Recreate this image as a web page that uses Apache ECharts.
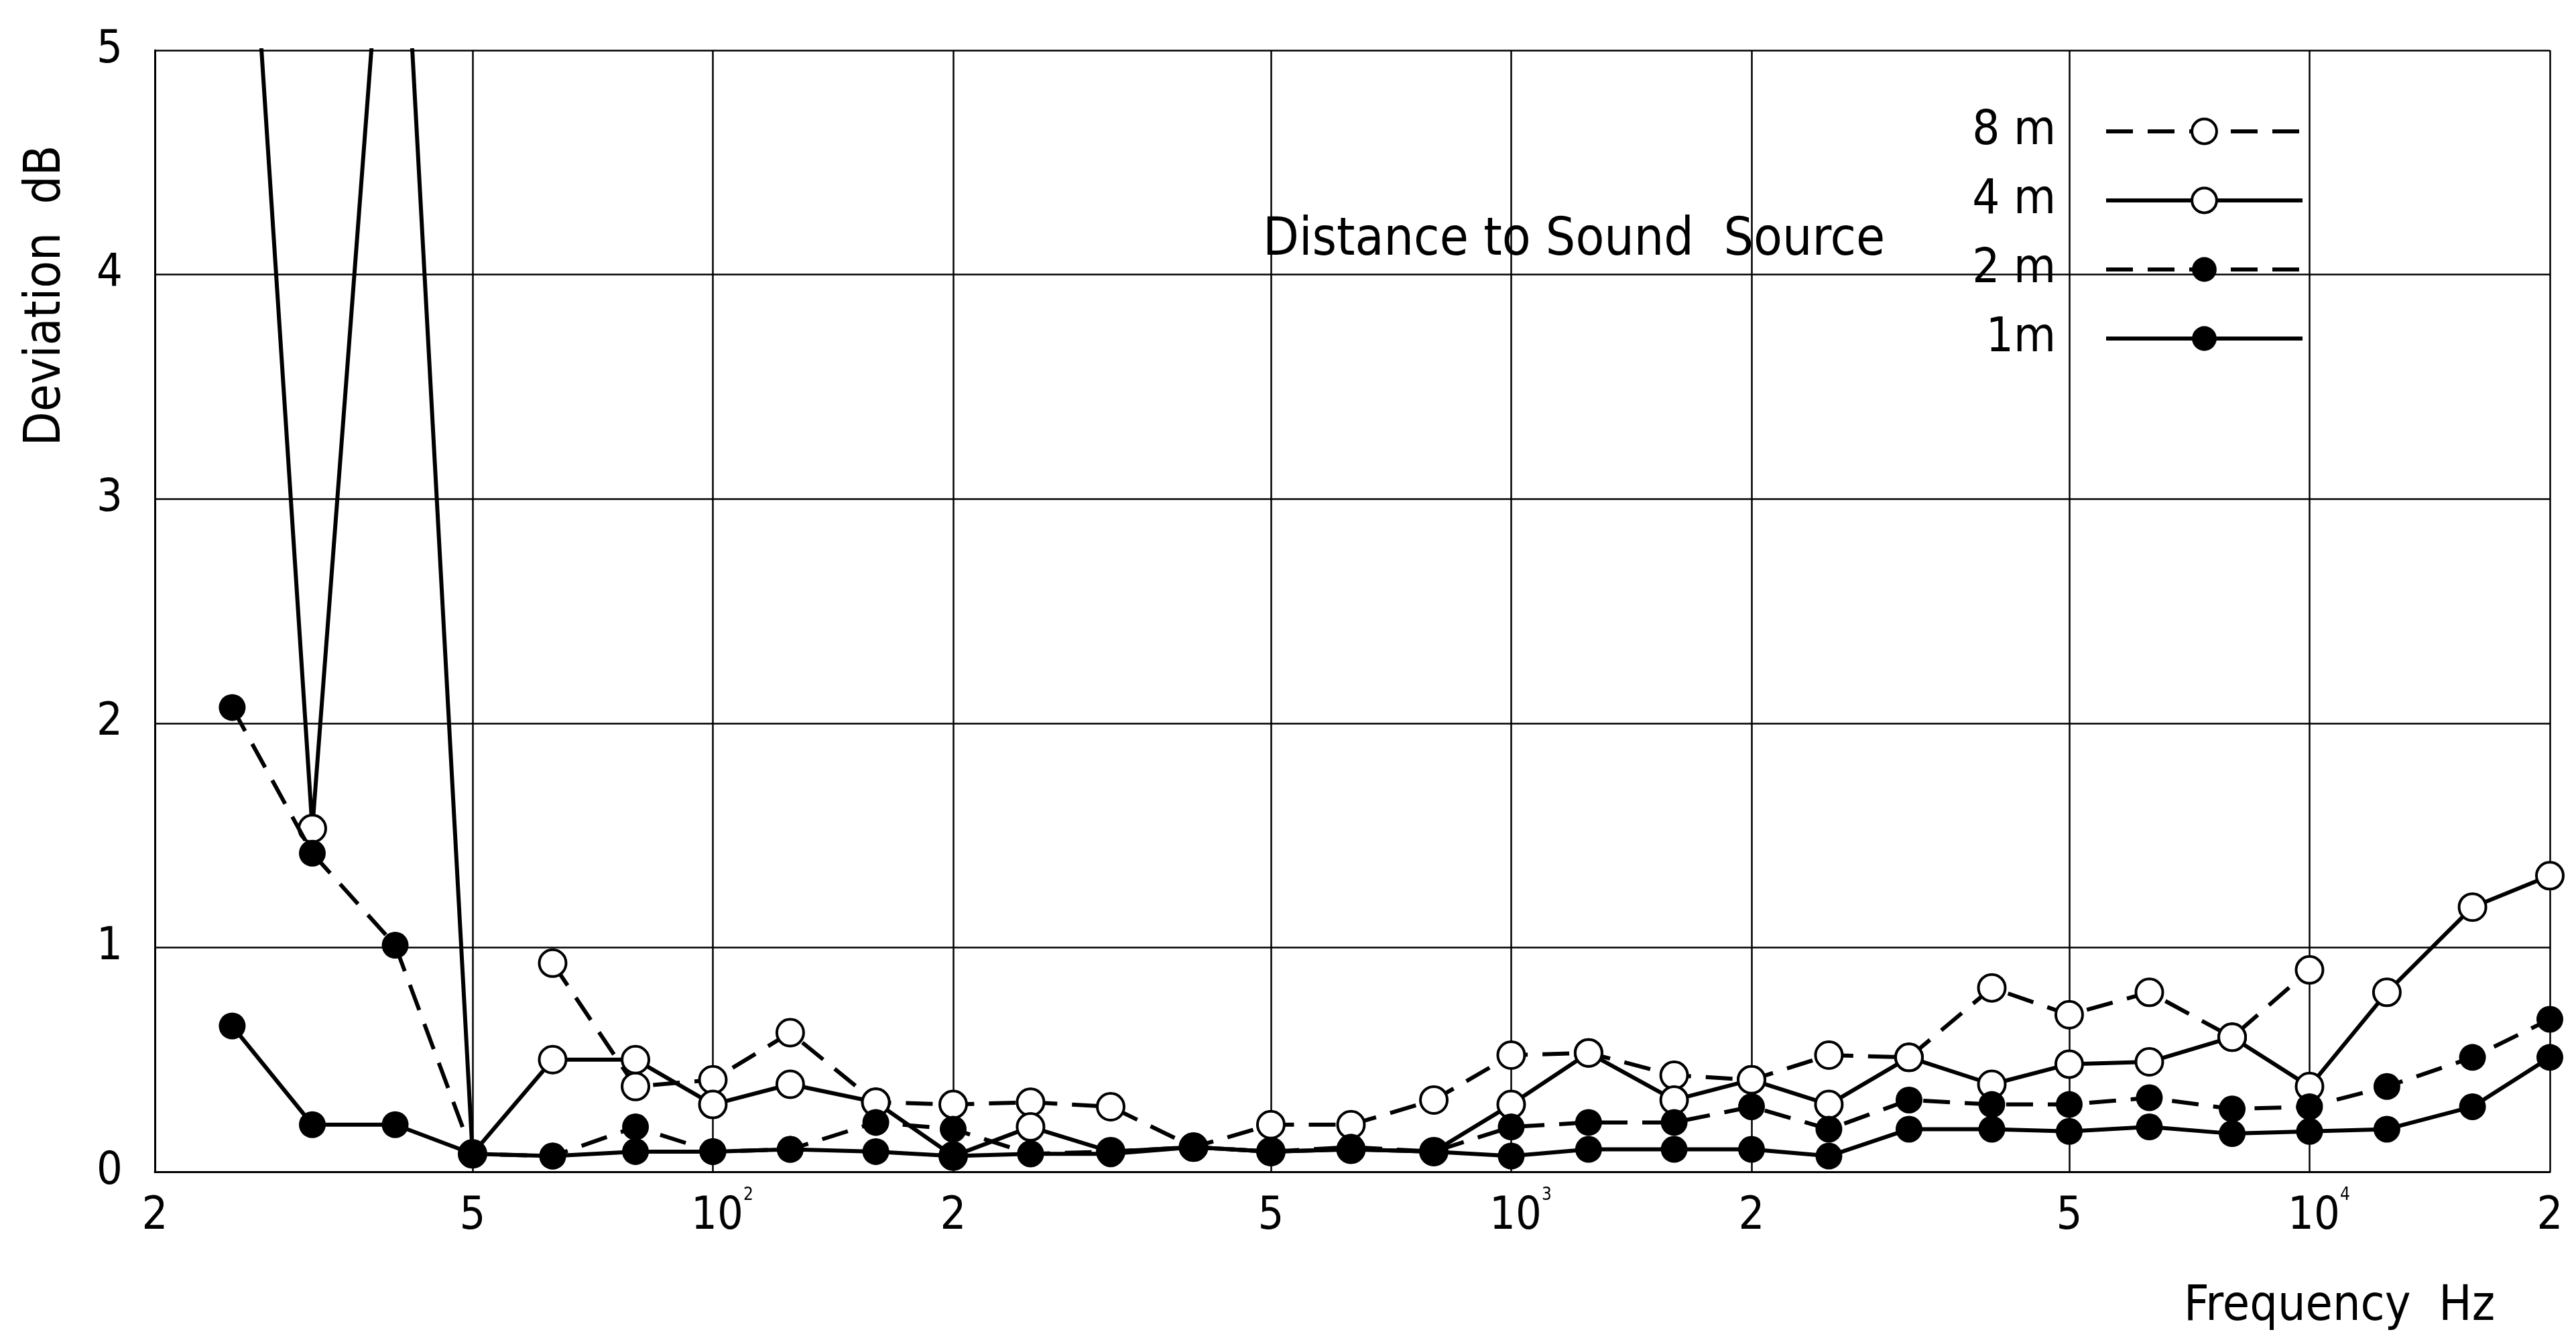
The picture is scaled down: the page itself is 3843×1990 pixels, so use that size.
<!DOCTYPE html>
<html>
<head>
<meta charset="utf-8">
<script src="https://cdn.jsdelivr.net/npm/echarts@6/dist/echarts.min.js"></script>
<style>
html,body{margin:0;padding:0;background:#fff;}
#chart{width:3843px;height:1990px;}
</style>
</head>
<body>
<div id="chart"></div>
<script>
// ---- data ----
const freqs = [25, 31.5, 40, 50, 63, 80, 100, 125, 160, 200, 250, 315, 400, 500, 630, 800,
               1000, 1250, 1600, 2000, 2500, 3150, 4000, 5000, 6300, 8000, 10000, 12500, 16000, 20000];
const dev8m = [null, null, null, null, 0.93, 0.38, 0.41, 0.62, 0.31, 0.30, 0.31, 0.29, 0.11, 0.21, 0.21, 0.32,
               0.52, 0.53, 0.43, 0.41, 0.52, 0.51, 0.82, 0.70, 0.80, 0.60, 0.90, null, null, null];
const dev4m = [7.0, 1.53, 6.4, 0.08, 0.50, 0.50, 0.30, 0.39, 0.31, 0.07, 0.20, 0.09, 0.11, 0.09, 0.10, 0.09,
               0.30, 0.53, 0.32, 0.41, 0.30, 0.51, 0.39, 0.48, 0.49, 0.60, 0.38, 0.80, 1.18, 1.32];
const dev2m = [2.07, 1.42, 1.01, 0.08, 0.07, 0.20, 0.09, 0.10, 0.22, 0.19, 0.08, 0.09, 0.11, 0.09, 0.11, 0.09,
               0.20, 0.22, 0.22, 0.29, 0.19, 0.32, 0.30, 0.30, 0.33, 0.28, 0.29, 0.38, 0.51, 0.68];
const dev1m = [0.65, 0.21, 0.21, 0.08, 0.07, 0.09, 0.09, 0.10, 0.09, 0.07, 0.08, 0.08, 0.11, 0.09, 0.10, 0.09,
               0.07, 0.10, 0.10, 0.10, 0.07, 0.19, 0.19, 0.18, 0.20, 0.17, 0.18, 0.19, 0.29, 0.51];
const seriesNames = ['8 m', '4 m', '2 m', '1m'];
const xTickValues = [20, 50, 100, 200, 500, 1000, 2000, 5000, 10000, 20000];
const xTickBase   = ['2', '5', '10', '2', '5', '10', '2', '5', '10', '2'];
const xTickExp    = ['', '', '2', '', '', '3', '', '', '4', ''];
const yMin = 0, yMax = 5, yStep = 1;

// ---- chart ----
const FONT = "'Liberation Sans Narrow', 'DejaVu Sans Condensed', 'Liberation Sans', sans-serif";

function pairs(vals) {
  const out = [];
  vals.forEach((v, i) => { if (v !== null) out.push([freqs[i], v]); });
  return out;
}

function xLabel(v) {
  for (let i = 0; i < xTickValues.length; i++) {
    if (Math.abs(v - xTickValues[i]) / xTickValues[i] < 1e-6) {
      return xTickExp[i] ? '{b|' + xTickBase[i] + '}{s|' + xTickExp[i] + '}' : xTickBase[i];
    }
  }
  return '';
}

const DASH = [40, 22];
const styles = [
  {open: true,  dash: DASH},
  {open: true,  dash: 'solid'},
  {open: false, dash: DASH},
  {open: false, dash: 'solid'}
];
const dataSets = [dev8m, dev4m, dev2m, dev1m];

const series = seriesNames.map((name, k) => ({
  name: name,
  type: 'line',
  data: pairs(dataSets[k]),
  symbol: 'circle',
  symbolSize: 40,
  clip: true,
  connectNulls: false,
  lineStyle: {color: '#000', width: 6, type: styles[k].dash},
  itemStyle: styles[k].open
    ? {color: '#fff', borderColor: '#000', borderWidth: 4}
    : {color: '#000', borderColor: '#000', borderWidth: 0},
  emphasis: {disabled: true},
  z: 2 + k
}));

const chart = echarts.init(document.getElementById('chart'), null, {renderer: 'canvas'});
chart.setOption({
  animation: false,
  backgroundColor: '#fff',
  grid: {left: 231, right: 39, top: 75, bottom: 242, containLabel: false},
  xAxis: {
    type: 'log', logBase: 10, min: 20, max: 20000,
    axisLine: {show: true, onZero: false, lineStyle: {color: '#000', width: 3}},
    axisTick: {show: false, customValues: xTickValues},
    minorTick: {show: false},
    axisLabel: {
      customValues: xTickValues,
      formatter: xLabel,
      color: '#000', fontFamily: FONT, fontSize: 68, lineHeight: 90, margin: 22,
      rich: {
        b: {fontFamily: FONT, fontSize: 68, lineHeight: 90, color: '#000', padding: [0, 0, 0, 28]},
        s: {fontFamily: FONT, fontSize: 26, lineHeight: 26, color: '#000', verticalAlign: 'top'}
      }
    },
    splitLine: {show: true, lineStyle: {color: '#000', width: 2.5, type: 'solid'}}
  },
  yAxis: {
    type: 'value', min: yMin, max: yMax, interval: yStep,
    axisLine: {show: true, lineStyle: {color: '#000', width: 3}},
    axisTick: {show: false},
    axisLabel: {color: '#000', fontFamily: FONT, fontSize: 68, margin: 48},
    splitLine: {show: true, lineStyle: {color: '#000', width: 2.5, type: 'solid'}}
  },
  legend: {
    orient: 'vertical', right: 405, top: 160, padding: 0,
    align: 'right', itemWidth: 293, itemHeight: 46, itemGap: 31,
    selectedMode: false,
    textStyle: {fontFamily: FONT, fontSize: 72, color: '#000', padding: [0, 70, 0, 0]},
    lineStyle: {width: 6},
    data: seriesNames.map((n, k) => ({
      name: n,
      lineStyle: {width: 6, color: '#000', type: styles[k].dash},
      itemStyle: styles[k].open ? {borderWidth: 4, borderColor: '#000', color: '#fff'} : {borderWidth: 0, color: '#000'}
    }))
  },
  graphic: [
    {type: 'text', x: 1884, y: 360,
     style: {text: 'Distance to Sound  Source', fontFamily: FONT, fontSize: 78, fill: '#000', align: 'left', verticalAlign: 'middle'}},
    {type: 'text', x: 70, y: 441, rotation: Math.PI / 2,
     style: {text: 'Deviation  dB', fontFamily: FONT, fontSize: 74, fill: '#000', align: 'center', verticalAlign: 'middle'}},
    {type: 'text', x: 3490, y: 1950,
     style: {text: 'Frequency  Hz', fontFamily: FONT, fontSize: 73, fill: '#000', align: 'center', verticalAlign: 'middle'}}
  ],
  series: series
});
</script>
</body>
</html>
